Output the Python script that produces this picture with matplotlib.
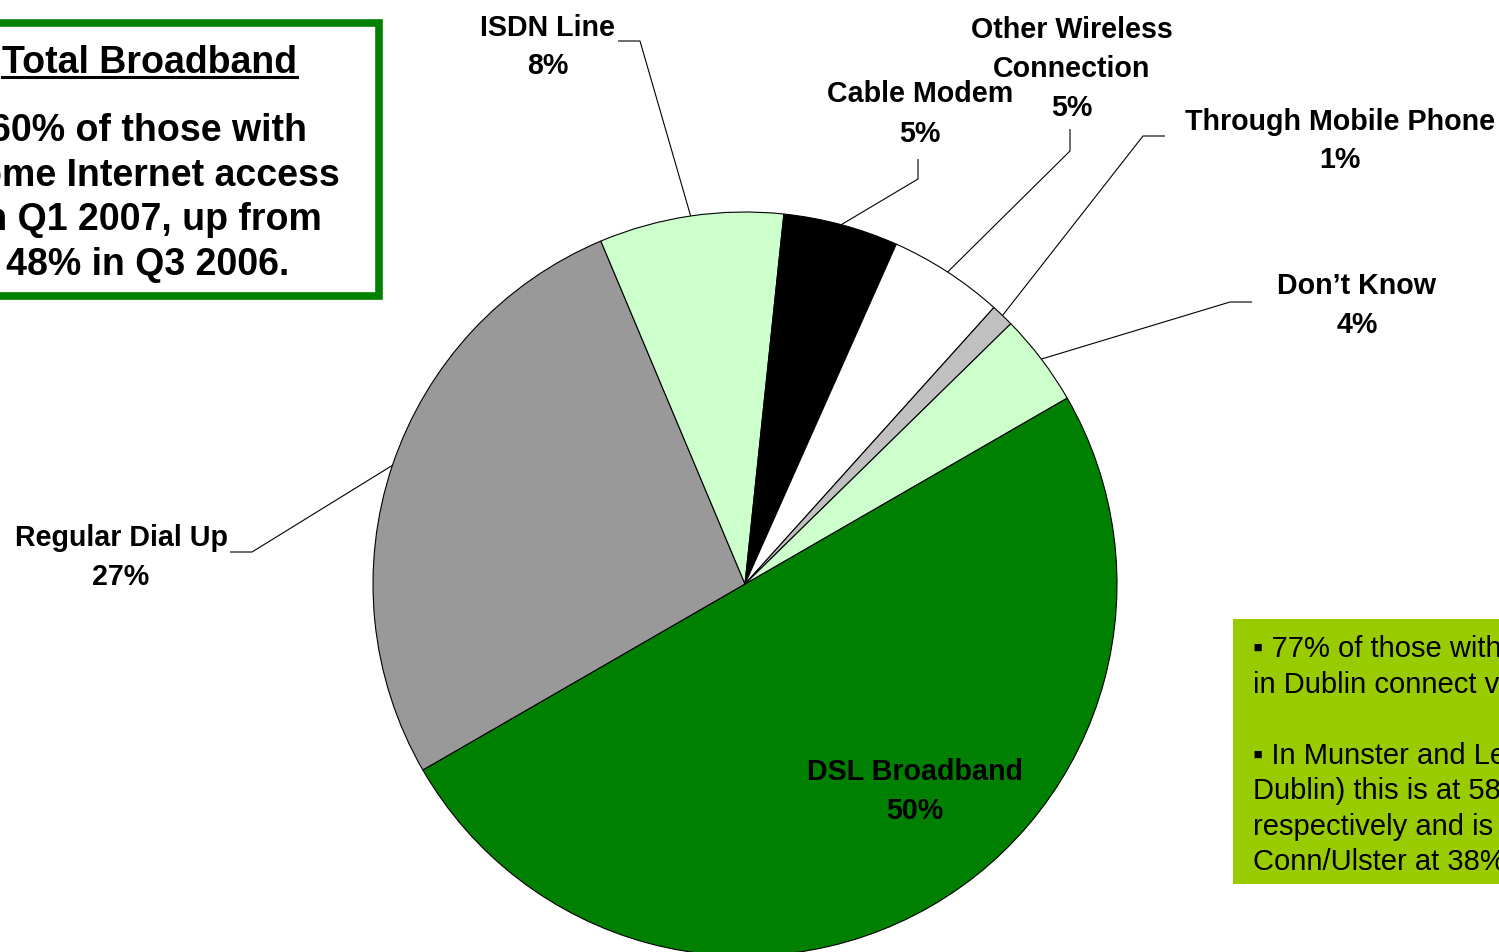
"""Home Internet connection type, Q1 2007 - pie with leader-line labels."""
import numpy as np
import matplotlib
matplotlib.use("Agg")
import matplotlib.pyplot as plt
from matplotlib.patches import Rectangle

# Connection types, drawn clockwise starting from DSL
categories = ["DSL Broadband", "Regular Dial Up", "ISDN Line", "Cable Modem",
              "Other Wireless\nConnection", "Through Mobile Phone", "Don\u2019t Know"]
shares = [50, 27, 8, 5, 5, 1, 4]
colors = ["#008000", "#999999", "#CCFFCC", "#000000", "#FFFFFF", "#C0C0C0", "#CCFFCC"]

headline = "Total Broadband"
headline_body = ["60% of those with", "home Internet access",
                 "in Q1 2007, up from", "48% in Q3 2006."]
note_body = ["\u25aa 77% of those with broadband",
             "in Dublin connect via DSL",
             "",
             "\u25aa In Munster and Leinster (excl.",
             "Dublin) this is at 58% and 54%",
             "respectively and is lowest in",
             "Conn/Ulster at 38%"]

FONT = ["Liberation Sans", "DejaVu Sans"]
W, H = 1499, 953


def stacked_text(ax, x, yc, lines, step, **kw):
    """Draw lines one under another, block centred vertically on yc."""
    y0 = yc - step * (len(lines) - 1) / 2
    for k, line in enumerate(lines):
        ax.text(x, y0 + k * step, line, va="center", **kw)


fig = plt.figure(figsize=(W / 100, H / 100), dpi=100)
ax = fig.add_axes([0, 0, 1, 1])

# pixel-style coordinates: origin top-left, y grows downward
cx, cy, r = 745, 585, 372
wedges, _ = ax.pie(shares, colors=colors, center=(cx, cy), radius=r,
                   startangle=-30, counterclock=True,
                   wedgeprops=dict(edgecolor="black", linewidth=0.8))
ax.set_xlim(0, W)
ax.set_ylim(H, 0)
ax.set_aspect("equal")
ax.axis("off")

# label anchor (text centre) and elbow of the leader line, per slice
label_pos = {
    0: (915, 792),
    1: (121, 558),
    2: (548, 47),
    3: (920, 114),
    4: (1072, 69),
    5: (1340, 141),
    6: (1357, 306),
}
elbows = {
    1: [(230, 553), (252, 553)],
    2: [(618, 42), (640, 42)],
    3: [(918, 160), (918, 180)],
    4: [(1070, 130), (1070, 152)],
    5: [(1165, 137), (1143, 137)],
    6: [(1252, 303), (1230, 303)],
}

for i, (name, val, w) in enumerate(zip(categories, shares, wedges)):
    x, y = label_pos[i]
    stacked_text(ax, x, y, name.split("\n") + [f"{val}%"], 39,
                 ha="center", fontsize=20.6, fontweight="bold", family=FONT)
    if i in elbows:
        mid = np.deg2rad((w.theta1 + w.theta2) / 2)
        edge = (cx + r * np.cos(mid), cy + r * np.sin(mid))
        pts = elbows[i] + [edge]
        ax.plot([p[0] for p in pts], [p[1] for p in pts],
                color="black", lw=0.8, solid_capstyle="butt")

# headline box, top left (runs off the figure edge)
ax.add_patch(Rectangle((-30, 24), 409, 273, facecolor="white",
                       edgecolor="#008000", lw=5.5, zorder=3))
title = ax.text(149, 63, headline, ha="center", va="center", fontsize=27,
                fontweight="bold", family=FONT, zorder=4)
stacked_text(ax, 148, 198, headline_body, 44.7, ha="center", fontsize=27,
             fontweight="bold", family=FONT, zorder=4)

# underline the headline
fig.canvas.draw()
bb = title.get_window_extent(renderer=fig.canvas.get_renderer())
(x0, _), (x1, _) = ax.transData.inverted().transform([[bb.x0, 0], [bb.x1, 0]])
ax.plot([x0, x1], [77.5, 77.5], color="black", lw=2.2, zorder=4)

# side note, bottom right
ax.add_patch(Rectangle((1233, 620), 320, 265, facecolor="#99CC00",
                       edgecolor="none", zorder=3))
stacked_text(ax, 1253, 756, note_body, 35.5, ha="left", fontsize=21,
             family=FONT, zorder=4)

fig.savefig("out.png", dpi=100)
